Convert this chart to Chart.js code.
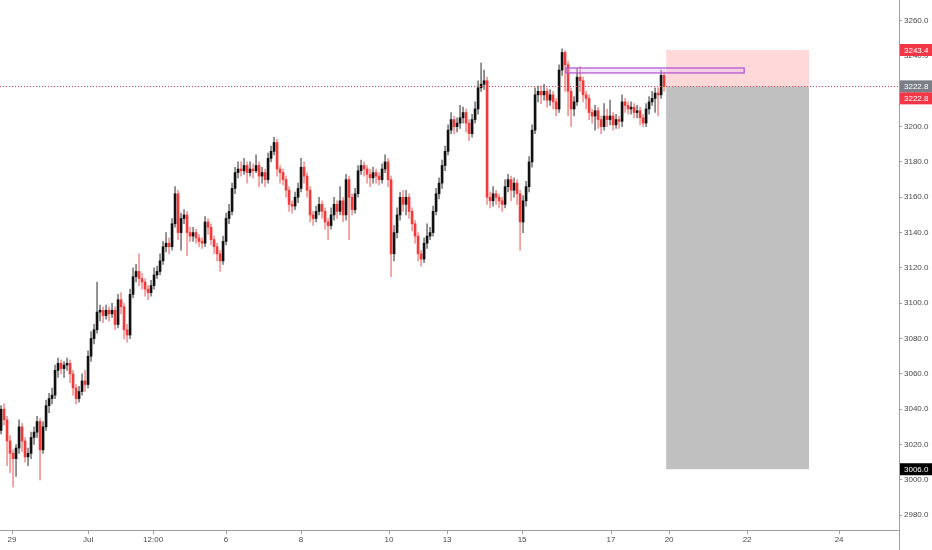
<!DOCTYPE html>
<html><head><meta charset="utf-8">
<script src="https://cdn.jsdelivr.net/npm/chart.js@4.4.1/dist/chart.umd.min.js"></script>
<style>html,body{margin:0;padding:0;background:#fff;}#wrap{width:932px;height:550px;position:relative;}</style>
</head><body><div id="wrap"><canvas id="c"></canvas></div>
<script>
const opens=[3028,3040,3034,3022,3015,3012,3018,3030,3022,3013,
3015,3024,3027,3033,3017,3030,3042,3046,3048,3062,
3066,3063,3065,3066,3060,3052,3046,3050,3056,3054,
3070,3080,3085,3095,3096,3093,3096,3094,3096,3088,
3102,3098,3085,3082,3105,3115,3118,3114,3112,3108,
3106,3110,3116,3118,3124,3132,3134,3132,3145,3162,
3140,3148,3150,3140,3138,3140,3137,3135,3134,3146,
3143,3136,3132,3128,3124,3135,3148,3152,3165,3174,
3176,3175,3178,3174,3176,3175,3178,3172,3174,3170,
3182,3186,3191,3176,3174,3170,3164,3156,3155,3160,
3165,3177,3172,3164,3150,3148,3152,3156,3152,3146,
3144,3150,3156,3152,3158,3150,3170,3160,3153,3162,
3175,3178,3176,3173,3171,3174,3172,3170,3176,3180,
3170,3128,3140,3150,3160,3156,3160,3152,3145,3138,
3128,3125,3134,3138,3140,3152,3162,3168,3178,3186,
3198,3204,3200,3202,3205,3208,3202,3196,3204,3210,
3222,3224,3226,3160,3158,3162,3160,3158,3156,3166,
3170,3164,3168,3162,3146,3158,3166,3180,3198,3218,
3220,3218,3220,3215,3218,3214,3210,3232,3242,3235,
3220,3210,3214,3228,3226,3218,3216,3208,3206,3209,
3204,3200,3206,3204,3206,3201,3204,3203,3214,3212,
3210,3211,3208,3209,3205,3202,3210,3214,3216,3219,
3218,3229];
const highs=[3042,3043,3036,3025,3017,3020,3034,3032,3024,3018,
3027,3030,3036,3035,3033,3045,3049,3052,3065,3069,
3068,3067,3069,3068,3062,3054,3053,3060,3062,3073,
3084,3088,3112,3099,3098,3099,3098,3100,3098,3105,
3106,3100,3088,3108,3120,3122,3128,3117,3114,3110,
3113,3120,3121,3128,3135,3140,3137,3148,3166,3164,
3151,3153,3152,3143,3143,3142,3139,3137,3149,3148,
3145,3138,3134,3130,3138,3151,3156,3168,3177,3180,
3180,3182,3180,3180,3179,3184,3180,3177,3176,3185,
3189,3194,3193,3178,3176,3172,3166,3158,3163,3168,
3182,3180,3174,3166,3152,3155,3160,3158,3154,3148,
3154,3160,3158,3166,3160,3173,3172,3162,3165,3178,
3181,3180,3178,3176,3177,3176,3174,3179,3184,3182,
3172,3144,3154,3163,3164,3164,3162,3154,3147,3140,
3130,3137,3145,3143,3155,3165,3171,3181,3189,3201,
3208,3206,3205,3212,3211,3210,3204,3207,3214,3226,
3236,3232,3228,3163,3166,3164,3162,3160,3170,3173,
3172,3171,3170,3164,3161,3169,3183,3201,3222,3223,
3223,3224,3222,3221,3220,3216,3235,3244,3243,3237,
3222,3217,3233,3234,3228,3220,3218,3210,3212,3211,
3206,3213,3210,3215,3208,3207,3206,3218,3216,3214,
3214,3213,3212,3211,3207,3213,3217,3220,3222,3222,
3232,3231];
const lows=[3026,3031,3008,3004,2996,3002,3015,3016,3010,3008,
3012,3020,3024,3000,3015,3028,3038,3043,3046,3058,
3060,3058,3062,3055,3048,3043,3044,3048,3050,3052,
3067,3077,3083,3090,3089,3091,3090,3092,3085,3086,
3094,3080,3078,3080,3103,3112,3110,3108,3104,3102,
3104,3108,3114,3116,3122,3129,3128,3130,3143,3136,
3130,3145,3127,3135,3135,3134,3132,3131,3132,3139,
3133,3128,3124,3118,3122,3133,3145,3150,3162,3171,
3172,3173,3168,3172,3171,3174,3166,3168,3166,3168,
3180,3184,3172,3168,3167,3160,3152,3151,3153,3157,
3163,3168,3160,3146,3144,3146,3150,3148,3142,3136,
3142,3147,3148,3150,3146,3147,3136,3150,3151,3160,
3173,3172,3168,3166,3168,3168,3167,3168,3174,3166,
3115,3124,3137,3147,3152,3150,3148,3141,3134,3124,
3121,3123,3131,3136,3138,3150,3159,3165,3175,3184,
3196,3196,3197,3199,3202,3197,3192,3194,3202,3207,
3220,3221,3156,3154,3155,3156,3154,3152,3154,3163,
3158,3160,3156,3130,3140,3155,3163,3177,3196,3214,
3213,3215,3211,3212,3210,3206,3208,3229,3220,3206,
3200,3206,3212,3220,3214,3210,3204,3202,3198,3199,
3196,3198,3200,3201,3198,3199,3199,3200,3208,3207,
3207,3205,3205,3201,3200,3200,3207,3212,3208,3206,
3216,3220];
const closes=[3040,3034,3022,3015,3012,3018,3030,3022,3013,3015,
3024,3027,3033,3017,3030,3042,3046,3048,3062,3066,
3063,3065,3066,3060,3052,3046,3050,3056,3054,3070,
3080,3085,3095,3096,3093,3096,3094,3096,3088,3102,
3098,3085,3082,3105,3115,3118,3114,3112,3108,3106,
3110,3116,3118,3124,3132,3134,3132,3145,3162,3140,
3148,3150,3140,3138,3140,3137,3135,3134,3146,3143,
3136,3132,3128,3124,3135,3148,3152,3165,3174,3176,
3175,3178,3174,3176,3175,3178,3172,3174,3170,3182,
3186,3191,3176,3174,3170,3164,3156,3155,3160,3165,
3177,3172,3164,3150,3148,3152,3156,3152,3146,3144,
3150,3156,3152,3158,3150,3170,3160,3153,3162,3175,
3178,3176,3173,3171,3174,3172,3170,3176,3180,3170,
3128,3140,3150,3160,3156,3160,3152,3145,3138,3128,
3125,3134,3138,3140,3152,3162,3168,3178,3186,3198,
3204,3200,3202,3205,3208,3202,3196,3204,3210,3222,
3224,3226,3160,3158,3162,3160,3158,3156,3166,3170,
3164,3168,3162,3146,3158,3166,3180,3198,3218,3220,
3218,3220,3215,3218,3214,3210,3232,3242,3235,3220,
3210,3214,3228,3226,3218,3216,3208,3206,3209,3204,
3200,3206,3204,3206,3201,3204,3203,3214,3212,3210,
3211,3208,3209,3205,3202,3210,3214,3216,3219,3218,
3229,3222.8];

const xTickPositions=[3.67,29,50.67,75,100,129.33,148.67,173.67,203.33,222.67,248.67,279.33];
const xTickLabels=['29','Jul','12:00','6','8','10','13','15','17','20','22','24'];
const yTickValues=[2980,3000,3020,3040,3060,3080,3100,3120,3140,3160,3180,3200,3220,3240,3260];

const entryPrice=3222.8, stopPrice=3243.4, targetPrice=3006.0;
const positionStart=221.7, positionEnd=269.3;
const zoneStart=188.3, zoneEnd=247.7, zoneTop=3233.2, zoneBottom=3230.4;
const xRange=[-0.35,299.3], yRange=[2971.6,3271.7];

const UP='#111111', DOWN='#f23a3a', UPWICK='#7d7d7d', DOWNWICK='#f59595';
const FONT='"Liberation Sans", Arial, sans-serif';

const isUp=i=>closes[i]>=opens[i];
const wickData=closes.map((c,i)=>({x:i,y:[lows[i],highs[i]]}));
const bodyData=closes.map((c,i)=>({x:i,y:[opens[i],c]}));

const noPad=s=>{s.paddingTop=0;s.paddingBottom=0;s.paddingLeft=0;s.paddingRight=0;};

const overlay={
  id:'overlay',
  beforeDatasetsDraw(chart){
    const {ctx,scales:{x,y}}=chart;
    const x0=x.getPixelForValue(positionStart), x1=x.getPixelForValue(positionEnd);
    const yS=y.getPixelForValue(stopPrice), yE=y.getPixelForValue(entryPrice), yT=y.getPixelForValue(targetPrice);
    ctx.save();
    ctx.fillStyle='rgba(255,82,82,0.22)';
    ctx.fillRect(x0,yS,x1-x0,yE-yS);
    ctx.fillStyle='#c0c0c0';
    ctx.fillRect(x0,yE,x1-x0,yT-yE);
    ctx.restore();
  },
  afterDatasetsDraw(chart){
    const {ctx,chartArea:a,scales:{x,y}}=chart;
    ctx.save();
    const zx0=x.getPixelForValue(zoneStart), zx1=x.getPixelForValue(zoneEnd);
    const zy0=y.getPixelForValue(zoneTop), zy1=y.getPixelForValue(zoneBottom);
    ctx.fillStyle='rgba(225,190,240,0.35)';
    ctx.fillRect(zx0,zy0,zx1-zx0,zy1-zy0);
    ctx.strokeStyle='#b45ad0';
    ctx.lineWidth=1.3;
    ctx.strokeRect(zx0,zy0,zx1-zx0,zy1-zy0);
    const yl=Math.round(y.getPixelForValue(closes[closes.length-1]))+0.5;
    ctx.strokeStyle='#f23645';
    ctx.lineWidth=1;
    ctx.setLineDash([1,2]);
    ctx.beginPath();ctx.moveTo(a.left,yl);ctx.lineTo(a.right,yl);ctx.stroke();
    ctx.restore();
  },
  afterDraw(chart){
    const {ctx,chartArea:a,scales:{y}}=chart;
    ctx.save();
    ctx.strokeStyle='#9e9e9e';ctx.lineWidth=1;
    ctx.beginPath();ctx.moveTo(a.right+0.5,a.top);ctx.lineTo(a.right+0.5,chart.height);ctx.stroke();
    const tag=(val,bg,dy)=>{
      const cy=y.getPixelForValue(val)+dy;
      ctx.fillStyle=bg;
      ctx.fillRect(a.right+1,cy-6,chart.width-a.right-1,12);
      ctx.fillStyle='#ffffff';
      ctx.font='8px '+FONT;
      ctx.textBaseline='middle';
      ctx.textAlign='left';
      ctx.fillText(val.toFixed(1),a.right+5,cy+0.5);
    };
    tag(stopPrice,'#f23645',0);
    tag(entryPrice,'#7b7e87',0);
    tag(closes[closes.length-1],'#f23645',12);
    tag(targetPrice,'#000000',0);
    ctx.restore();
  }
};

new Chart(document.getElementById('c'),{
  type:'bar',
  data:{datasets:[
    {data:wickData,backgroundColor:closes.map((c,i)=>isUp(i)?UPWICK:DOWNWICK),barThickness:1,grouped:false,order:2},
    {data:bodyData,backgroundColor:closes.map((c,i)=>isUp(i)?UP:DOWN),barThickness:2,minBarLength:1,grouped:false,order:1}
  ]},
  options:{
    responsive:true,maintainAspectRatio:false,animation:false,
    layout:{padding:0},
    plugins:{legend:{display:false},tooltip:{enabled:false}},
    scales:{
      x:{type:'linear',min:xRange[0],max:xRange[1],offset:false,
        grid:{display:true,offset:false,drawOnChartArea:false,drawTicks:true,tickLength:4,color:'#9e9e9e'},
        border:{display:true,color:'#9e9e9e'},
        afterBuildTicks:s=>{s.ticks=xTickPositions.map(v=>({value:v}));},
        afterFit:s=>{s.height=20;noPad(s);},
        ticks:{autoSkip:false,maxRotation:0,padding:1,color:'#4a4a4a',font:{family:FONT,size:8},
          callback:(v)=>{const k=xTickPositions.indexOf(v);return k>=0?xTickLabels[k]:'';}}
      },
      y:{type:'linear',position:'right',min:yRange[0],max:yRange[1],
        grid:{display:true,offset:false,drawOnChartArea:false,drawTicks:true,tickLength:3,color:'#9e9e9e'},
        border:{display:true,color:'#9e9e9e'},
        afterBuildTicks:s=>{s.ticks=yTickValues.map(v=>({value:v}));},
        afterFit:s=>{s.width=33;noPad(s);},
        ticks:{padding:2,color:'#4a4a4a',font:{family:FONT,size:8},callback:v=>Number(v).toFixed(1)}
      }
    }
  },
  plugins:[overlay]
});
</script></body></html>
